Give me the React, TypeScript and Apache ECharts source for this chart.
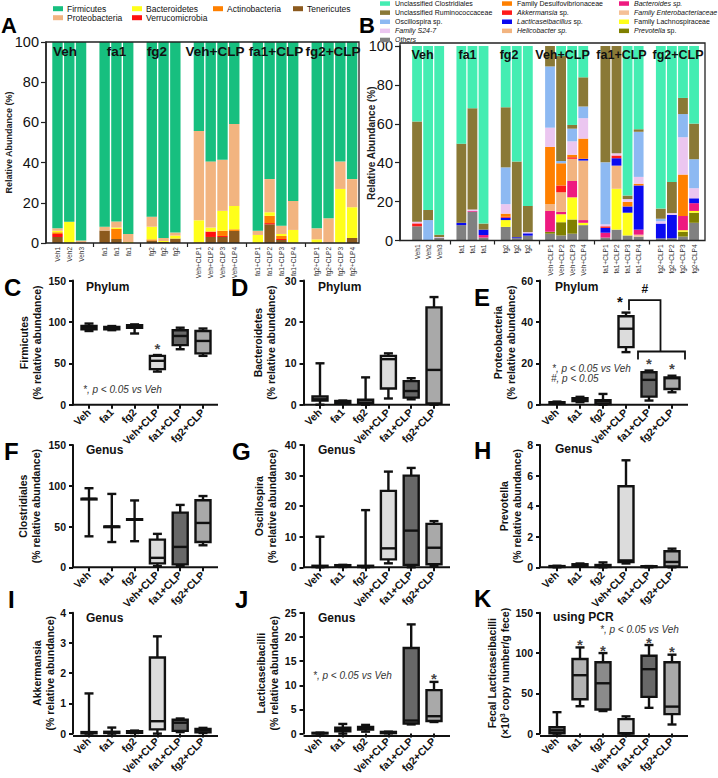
import { useEffect, useRef } from 'react';
import * as echarts from 'echarts';

const FONT = '"Liberation Sans", Arial, Helvetica, sans-serif';

// ---------- sample axis shared by the two stacked-bar panels ----------
const SAMPLE_LABELS = [
  'Veh1', 'Veh2', 'Veh3', '',
  'fa1', 'fa1', 'fa1', '',
  'fg2', 'fg2', 'fg2', '',
  'Veh+CLP1', 'Veh+CLP2', 'Veh+CLP3', 'Veh+CLP4', '',
  'fa1+CLP1', 'fa1+CLP2', 'fa1+CLP3', 'fa1+CLP4', '',
  'fg2+CLP1', 'fg2+CLP2', 'fg2+CLP3', 'fg2+CLP4',
];
const GROUPS = ['Veh', 'fa1', 'fg2', 'Veh+CLP', 'fa1+CLP', 'fg2+CLP'];

// ---------- A: phylum relative abundance (%), 21 samples ----------
const TENERICUTES = [3, 0.2, 0, 6.2, 2, 0, 1.2, 0.5, 2.2, 0, 3, 3, 6, 0, 9.3, 1.5, 0, 0, 0, 0, 2.5];
const VERRUCOMICROBIA = [1.5, 0, 0, 0, 0, 0, 0, 0, 0, 0, 2.7, 0.5, 0, 0, 0.6, 0.5, 0, 0, 0, 0, 0];
const ACTINOBACTERIA = [0.8, 0, 0, 0, 5, 0, 0.6, 0, 0, 0.3, 0, 2.6, 0.8, 0, 3.6, 1.5, 0, 0, 0, 0, 0];
const BACTEROIDETES = [0.8, 10.3, 0, 0, 0.7, 0.5, 6.3, 0.5, 1.5, 11, 2, 9.9, 11.6, 4, 1.8, 1, 6.5, 1.8, 0, 26.9, 15.3];
const PROTEOBACTERIA = [1.2, 0.1, 1.2, 1.9, 3, 4, 5, 1.5, 1.5, 44.4, 32.9, 25.4, 40.8, 2.1, 16.5, 4.1, 14.4, 5.5, 12.3, 13.6, 14];
const FIRMICUTES = [92.7, 89.4, 98.8, 91.9, 89.3, 95.5, 86.9, 97.5, 94.8, 44.3, 59.4, 58.6, 40.8, 93.9, 68.2, 91.4, 79.1, 92.7, 87.7, 59.5, 68.2];

// ---------- B: genus relative abundance (%), 21 samples ----------
const OTHERS = [7.3, 0, 1.5, 7.9, 14.8, 1.5, 7, 1.2, 2.5, 3.5, 2.6, 3.5, 7.9, 1.5, 5.6, 2.6, 2, 1.1, 1.2, 2, 9.1];
const PREVOTELLA = [0, 0, 0, 0, 0, 0, 0, 0, 0, 1, 6.8, 7.3, 0, 0, 0, 0, 0, 0, 0, 2.5, 5.2];
const LACHNOSPIRACEAE = [0, 0, 0, 0, 0, 0, 3.5, 0, 0, 0, 4.1, 11.4, 1.2, 0, 21, 11.7, 0, 0, 0, 0.8, 0.9];
const ENTEROBACTERIACEAE = [0, 0, 0, 0, 0, 0, 0, 0, 0, 0, 0, 0, 0, 0, 0, 0, 1, 0, 0, 0, 0];
const BACTEROIDES = [0, 0, 0, 0, 0.4, 1.3, 0, 0, 0, 10.7, 1.2, 8.4, 1.4, 2.5, 0, 0, 2.6, 0, 0, 7.3, 4];
const HELICOBACTER = [0, 0, 0, 0, 0, 0, 0, 0, 0, 3.5, 10.1, 11.4, 30.6, 0, 11.9, 0, 0, 0, 0, 0, 0];
const LACTICASEIBACILLUS = [0, 0, 0, 1.2, 0, 2.8, 1.2, 0.5, 1.2, 0, 0, 0, 0.9, 2.5, 3.8, 3.2, 22.7, 7.6, 12, 0, 2.5];
const AKKERMANSIA = [1.5, 0, 0, 0, 0, 0, 0.5, 0, 0, 0, 3.5, 0.8, 0, 0.8, 1.4, 0, 0, 0, 0, 0, 0];
const DESULFOVIBRIONACEAE = [0, 0, 0, 0, 0, 0, 1.6, 0, 0, 29.4, 11.4, 1.3, 10.4, 0, 0, 2.4, 0.9, 0, 0, 21.3, 0];
const S24_7 = [0.8, 0, 0.3, 0, 0.8, 0, 4.9, 0, 0.6, 9.9, 0, 6.9, 10.5, 1, 1.2, 1.4, 3.5, 1.2, 0.9, 19.2, 5.2];
const OSCILLOSPIRA = [0, 10.5, 0, 0, 0, 0, 18.9, 0, 0, 31.5, 1.2, 6.5, 6, 31.9, 0, 0, 23.2, 1.3, 0, 11.9, 14.9];
const RUMINOCOCCACEAE = [51.6, 5.2, 1.2, 40.7, 52, 3.1, 30.9, 38.9, 13.5, 10.5, 53.9, 1.9, 15, 59.8, 55.1, 1.8, 1.3, 5.2, 16, 8.3, 18.3];
const CLOSTRIDIALES = [38.8, 84.3, 97, 50.2, 32, 91.3, 31.5, 59.4, 82.2, 0, 5.2, 40.6, 16.1, 0, 0, 76.9, 42.8, 83.6, 69.9, 26.7, 39.9];

// ---------- C–K: box summaries [min, q1, median, q3, max] per group ----------
const FIRMICUTES_BOX = [[89, 91, 93, 95, 98], [90, 91, 92, 94, 95], [86, 93, 95, 96, 97], [40, 43, 53, 59, 60], [67, 72, 83, 90, 93], [59, 62, 77, 89, 92]];
const BACTEROIDETES_BOX = [[0, 1, 1.3, 2, 10], [0.2, 0.4, 0.6, 0.9, 1], [0, 0.2, 0.5, 1.2, 6.6], [1.5, 3.9, 11, 11.8, 12.4], [1.3, 1.7, 3.3, 5.7, 6.4], [0, 0.3, 8.4, 23.5, 26]];
const PROTEOBACTERIA_BOX = [[0.5, 0.7, 1, 1.2, 1.5], [1.2, 1.8, 2.5, 3.2, 3.8], [0, 0.3, 1.5, 2.2, 5.2], [25.4, 27.8, 36.7, 42.7, 44.5], [2, 3.9, 12, 15.7, 16.5], [6, 7.6, 12.8, 13.2, 14]];
const CLOSTRIDIALES_BOX = [[38, 84, 84, 84, 97], [31, 50, 50, 50, 90], [32, 59, 59, 59, 82], [1.5, 4.8, 11.6, 34, 41], [1.5, 3.6, 25, 67, 76.5], [27, 31, 54.4, 82.2, 87.4]];
const OSCILLOSPIRA_BOX = [[0, 0.1, 0.3, 0.5, 10], [0.1, 0.3, 0.5, 0.7, 0.8], [0, 0.1, 0.3, 0.5, 18.7], [1.3, 2.6, 6.2, 25, 31.3], [0, 0.8, 12, 30, 32.5], [0.5, 1, 6.4, 14.2, 15.1]];
const PREVOTELLA_BOX = [[0, 0.02, 0.05, 0.08, 0.1], [0.08, 0.1, 0.15, 0.2, 0.25], [0, 0.02, 0.05, 0.15, 0.32], [0.25, 0.35, 0.45, 5.3, 7], [0, 0.02, 0.05, 0.07, 0.08], [0, 0.05, 0.35, 1.05, 1.22]];
const AKKERMANSIA_BOX = [[0, 0.01, 0.03, 0.05, 1.33], [0, 0.02, 0.04, 0.06, 0.2], [0.02, 0.03, 0.05, 0.08, 0.1], [0, 0.14, 0.41, 2.52, 3.22], [0.05, 0.09, 0.36, 0.46, 0.5], [0.02, 0.04, 0.1, 0.15, 0.19]];
const LACTICASEIBACILLI_BOX = [[0, 0.05, 0.1, 0.15, 0.2], [0, 0.5, 0.8, 1.2, 2], [0.4, 0.85, 1.1, 1.4, 1.8], [0.05, 0.1, 0.2, 0.35, 0.4], [1.9, 2.1, 2.7, 17.7, 22.6], [2.4, 2.6, 3.6, 9, 10.7]];
const PCR_BOX = [[0, 0.5, 4, 8, 26.6], [34, 42.7, 72.5, 92.7, 107], [28, 30, 62.5, 88.6, 100], [0, 0, 0.5, 18, 21.4], [32, 45.6, 80, 96.7, 110], [11.3, 24.2, 33.5, 88.6, 98]];

// groups marked * (p < 0.05 vs Veh)
const SIG_C = [3];
const SIG_E = [4, 5];
const SIG_J = [5];
const SIG_K = [1, 2, 4, 5];
// E bracket heights (% abundance): top bar, left drop, lower bar, lower drops
const E_BRACKET = [3, 50.5, 45.6, 25.7, 21.8];

const BOX_FILLS = ['#6f6f6f', '#b2b2b2', '#8b8b8b', '#dcdcdc', '#686868', '#a9a9a9'];

const PHYLA = [
  { name: 'Tenericutes', color: '#8c5a1e', values: TENERICUTES },
  { name: 'Verrucomicrobia', color: '#ff1010', values: VERRUCOMICROBIA },
  { name: 'Actinobacteria', color: '#ff8000', values: ACTINOBACTERIA },
  { name: 'Bacteroidetes', color: '#ffff1a', values: BACTEROIDETES },
  { name: 'Proteobacteria', color: '#f2b480', values: PROTEOBACTERIA },
  { name: 'Firmicutes', color: '#17bf7f', values: FIRMICUTES },
];

const GENERA = [
  { name: 'Others', color: '#808080', values: OTHERS },
  { name: 'Prevotella sp.', color: '#808000', values: PREVOTELLA },
  { name: 'Family Lachnospiraceae', color: '#ffff1a', values: LACHNOSPIRACEAE },
  { name: 'Family Enterobacteriaceae', color: '#f5c096', values: ENTEROBACTERIACEAE },
  { name: 'Bacteroides sp.', color: '#ee1a80', values: BACTEROIDES },
  { name: 'Helicobacter sp.', color: '#f2b480', values: HELICOBACTER },
  { name: 'Lacticaseibacillus sp.', color: '#0a0af0', values: LACTICASEIBACILLUS },
  { name: 'Akkermansia sp.', color: '#ff1a1a', values: AKKERMANSIA },
  { name: 'Family Desulfovibrionaceae', color: '#ff8000', values: DESULFOVIBRIONACEAE },
  { name: 'Family S24-7', color: '#ebc6f0', values: S24_7 },
  { name: 'Oscillospira sp.', color: '#8db9f2', values: OSCILLOSPIRA },
  { name: 'Unclassified Ruminococcaceae', color: '#8a7936', values: RUMINOCOCCACEAE },
  { name: 'Unclassified Clostridiales', color: '#44edb2', values: CLOSTRIDIALES },
];

const LEGEND_RICH: Record<string, string> = {
  'Family S24-7': '{i|Family S24-7}',
  'Others': '{i|Others}',
  'Akkermansia sp.': '{i|Akkermansia}{n| sp.}',
  'Lacticaseibacillus sp.': '{i|Lacticaseibacillus}{n| sp.}',
  'Helicobacter sp.': '{i|Helicobacter sp.}',
  'Bacteroides sp.': '{i|Bacteroides sp.}',
  'Family Enterobacteriaceae': '{i|Family Enterobacteriaceae}',
  'Prevotella sp.': '{i|Prevotella}{n| sp.}',
};

// ---------- layout ----------
const BAR_A = { axisX: 46, left: 51.6, width: 306.4, top: 42, height: 201, frameTop: 42, frameRight: 359, nameGap: 33, nameSize: 9 };
const BAR_B = { axisX: 400, left: 411.5, width: 288.1, top: 46, height: 194.5, frameTop: 43, frameRight: 705, nameGap: 24, nameSize: 10 };
const COLS = [
  { axisX: 73, left: 77.6, pitch: 22.8, endX: 218 },
  { axisX: 303.5, left: 308.6, pitch: 22.8, endX: 450 },
  { axisX: 540, left: 545.5, pitch: 23, endX: 688 },
];
const ROWS = [
  { top: 280.5, zero: 404.7 },
  { top: 445, zero: 567.3 },
  { top: 612.8, zero: 736 },
];

const PANELS = [
  { col: 0, row: 0, data: FIRMICUTES_BOX, max: 150, step: 50, name: 'Firmicutes', unit: '(% relative abundance)', gap: 30, sig: SIG_C, starGap: 10 },
  { col: 1, row: 0, data: BACTEROIDETES_BOX, max: 30, step: 10, name: 'Bacteroidetes', unit: '(% relative abundance)', gap: 26, sig: [], starGap: 8 },
  { col: 2, row: 0, data: PROTEOBACTERIA_BOX, max: 60, step: 20, name: 'Proteobacteria', unit: '(% relative abundance)', gap: 22, sig: SIG_E, starGap: 10 },
  { col: 0, row: 1, data: CLOSTRIDIALES_BOX, max: 150, step: 50, name: 'Clostridiales', unit: '(% relative abundance)', gap: 31, sig: [], starGap: 8 },
  { col: 1, row: 1, data: OSCILLOSPIRA_BOX, max: 40, step: 10, name: 'Oscillospira', unit: '(% relative abundance)', gap: 25, sig: [], starGap: 8 },
  { col: 2, row: 1, data: PREVOTELLA_BOX, max: 8, step: 2, name: 'Prevotella', unit: '(% relative abundance)', gap: 17, sig: [], starGap: 8 },
  { col: 0, row: 2, data: AKKERMANSIA_BOX, max: 4, step: 1, name: 'Akkermansia', unit: '(% relative abundance)', gap: 15, sig: [], starGap: 8 },
  { col: 1, row: 2, data: LACTICASEIBACILLI_BOX, max: 25, step: 5, name: 'Lacticaseibacilli', unit: '(% relative abundance)', gap: 22, sig: SIG_J, starGap: 6 },
  { col: 2, row: 2, data: PCR_BOX, max: 150, step: 50, name: 'Fecal Lacticaseibacilli', unit: '(×10{sup|3} copy number/g fece)', gap: 28, sig: SIG_K, starGap: 6 },
];

const LETTERS = [
  ['A', 1, 25, 22], ['B', 359, 25, 22],
  ['C', 4, 287, 24], ['D', 231, 287, 24], ['E', 474, 297, 24],
  ['F', 4, 451, 24], ['G', 232, 451, 24], ['H', 474, 450, 24],
  ['I', 8, 599, 24], ['J', 235, 599, 24], ['K', 474, 598, 24],
];
const PANEL_TITLES = [
  ['Phylum', 86, 287], ['Phylum', 318, 287], ['Phylum', 555, 287],
  ['Genus', 86, 450], ['Genus', 318, 450], ['Genus', 555, 449],
  ['Genus', 86, 618], ['Genus', 318, 618], ['using PCR', 553, 617],
];
const NOTES = [
  ['*, p < 0.05 vs Veh', 83, 389], ['*, p < 0.05 vs Veh', 552, 368], ['#, p < 0.05', 551, 378],
  ['*, p < 0.05 vs Veh', 313, 675], ['*, p < 0.05 vs Veh', 600, 629],
];
const GROUP_TAGS_A = [65, 116.5, 157, 215, 276, 333];
const GROUP_TAGS_B = [422.5, 467.5, 509, 562.5, 621.5, 678];

function withGaps(vals: number[]) {
  let k = 0;
  return SAMPLE_LABELS.map((l) => (l === '' ? '-' : vals[k++]));
}

function boxRenderer(params: any, api: any) {
  const i = api.value(0);
  const lo = api.coord([i, api.value(1)]);
  const q1 = api.coord([i, api.value(2)]);
  const md = api.coord([i, api.value(3)]);
  const q3 = api.coord([i, api.value(4)]);
  const hi = api.coord([i, api.value(5)]);
  const cx = lo[0];
  const bw = 15;
  const cap = 9;
  const stroke = { stroke: '#111', lineWidth: 2.4 };
  return {
    type: 'group',
    children: [
      { type: 'line', shape: { x1: cx, y1: hi[1], x2: cx, y2: lo[1] }, style: stroke },
      { type: 'line', shape: { x1: cx - cap / 2, y1: hi[1], x2: cx + cap / 2, y2: hi[1] }, style: stroke },
      { type: 'line', shape: { x1: cx - cap / 2, y1: lo[1], x2: cx + cap / 2, y2: lo[1] }, style: stroke },
      {
        type: 'rect',
        shape: { x: cx - bw / 2, y: q3[1], width: bw, height: Math.max(q1[1] - q3[1], 0.6) },
        style: { fill: BOX_FILLS[i], stroke: '#111', lineWidth: 2.4 },
      },
      { type: 'line', shape: { x1: cx - bw / 2, y1: md[1], x2: cx + bw / 2, y2: md[1] }, style: stroke },
    ],
  };
}

function bracketRenderer(params: any, api: any) {
  const xV = api.coord([api.value(0), 0])[0];
  const xF = api.coord([4, 0])[0];
  const xG = api.coord([5, 0])[0];
  const yTop = api.coord([0, api.value(1)])[1];
  const yDrop = api.coord([0, api.value(2)])[1];
  const yLow = api.coord([0, api.value(3)])[1];
  const yLowDrop = api.coord([0, api.value(4)])[1];
  const xL = xV + 3;
  const xR = (xF + xG) / 2;
  const s = { stroke: '#111', lineWidth: 1.8, fill: 'none' };
  return {
    type: 'group',
    children: [
      { type: 'polyline', shape: { points: [[xL, yDrop], [xL, yTop], [xR, yTop], [xR, yLow]] }, style: s },
      { type: 'polyline', shape: { points: [[xF - 11, yLowDrop], [xF - 11, yLow], [xG + 13, yLow], [xG + 13, yLowDrop]] }, style: s },
      { type: 'text', x: (xL + xR) / 2, y: yTop - 11, style: { text: '#', fontSize: 12, fontWeight: 'bold', fontFamily: FONT, fill: '#111', align: 'center', verticalAlign: 'middle' } },
      { type: 'text', x: xV - 6, y: yTop + 1, style: { text: '*', fontSize: 15, fontWeight: 'bold', fontFamily: FONT, fill: '#111', align: 'center', verticalAlign: 'middle' } },
    ],
  };
}

function buildOption() {
  const grids: any[] = [];
  const xAxes: any[] = [];
  const yAxes: any[] = [];
  const series: any[] = [];
  const graphic: any[] = [];

  // ----- stacked bar panels -----
  [BAR_A, BAR_B].forEach((g, gi) => {
    grids.push({ left: g.left, top: g.top, width: g.width, height: g.height });
    xAxes.push({
      type: 'category', gridIndex: gi, data: SAMPLE_LABELS,
      axisLine: { show: false },
      axisTick: { show: true, interval: (idx: number) => SAMPLE_LABELS[idx] === '', length: 4, alignWithLabel: true, lineStyle: { color: '#222', width: 1.2 } },
      axisLabel: { interval: 0, rotate: 90, fontSize: 6.5, margin: 4, color: '#333', fontFamily: FONT },
    });
    yAxes.push({
      type: 'value', gridIndex: gi, min: 0, max: 100, interval: 20, offset: g.left - g.axisX,
      name: 'Relative Abundance (%)', nameLocation: 'middle', nameGap: g.nameGap, nameMoveOverlap: false,
      nameTextStyle: { fontSize: g.nameSize, fontWeight: 'bold', color: '#222', fontFamily: FONT },
      axisLine: { show: true, lineStyle: { color: '#222', width: 1.5 } },
      axisTick: { show: true, length: 5, lineStyle: { color: '#222', width: 1.2 } },
      axisLabel: { fontSize: 14.5, color: '#111', margin: 7, fontFamily: FONT },
      splitLine: { show: false },
    });
    graphic.push({
      type: 'rect', z: 100,
      shape: { x: g.axisX, y: g.frameTop, width: g.frameRight - g.axisX, height: g.top + g.height - g.frameTop },
      style: { fill: 'none', stroke: '#222', lineWidth: 1.3 },
    });
  });

  PHYLA.forEach((p) => {
    series.push({
      type: 'bar', name: p.name, stack: 'phylum', xAxisIndex: 0, yAxisIndex: 0,
      barWidth: 10.4, itemStyle: { color: p.color }, data: withGaps(p.values),
    });
  });
  GENERA.forEach((p) => {
    series.push({
      type: 'bar', name: p.name, stack: 'genus', xAxisIndex: 1, yAxisIndex: 1,
      barWidth: 9.8, itemStyle: { color: p.color }, data: withGaps(p.values),
    });
  });

  // ----- box-plot panels -----
  PANELS.forEach((p, pi) => {
    const gi = pi + 2;
    const c = COLS[p.col];
    const r = ROWS[p.row];
    grids.push({ left: c.left, top: r.top, width: c.pitch * 6, height: r.zero - r.top });
    xAxes.push({
      type: 'category', gridIndex: gi, data: GROUPS,
      axisLine: { show: false },
      axisTick: { show: true, alignWithLabel: true, length: 4, lineStyle: { color: '#111', width: 2 } },
      axisLabel: { interval: 0, rotate: 45, fontSize: 10.5, fontWeight: 'bold', margin: 6, color: '#111', fontFamily: FONT },
    });
    yAxes.push({
      type: 'value', gridIndex: gi, min: 0, max: p.max, interval: p.step, offset: c.left - c.axisX,
      name: `${p.name}\n${p.unit}`, nameLocation: 'middle', nameGap: p.gap,
      nameTextStyle: {
        fontSize: 10.5, fontWeight: 'bold', color: '#111', lineHeight: 13, fontFamily: FONT,
        rich: { sup: { fontSize: 7, fontWeight: 'bold', verticalAlign: 'top', fontFamily: FONT, color: '#111', lineHeight: 13 } },
      },
      axisLine: { show: true, lineStyle: { color: '#111', width: 2 } },
      axisTick: { show: true, length: 4, lineStyle: { color: '#111', width: 2 } },
      axisLabel: { fontSize: 10.5, fontWeight: 'bold', color: '#111', margin: 7, fontFamily: FONT },
      splitLine: { show: false },
    });
    graphic.push({
      type: 'line', shape: { x1: c.axisX, y1: r.zero, x2: c.endX, y2: r.zero },
      style: { stroke: '#111', lineWidth: 2 },
    });
    series.push({
      type: 'custom', name: p.name, xAxisIndex: gi, yAxisIndex: gi,
      renderItem: boxRenderer, encode: { x: 0, y: [1, 2, 3, 4, 5] },
      data: p.data.map((b, i) => [i, ...b]), z: 3,
    });
    if (p.sig.length) {
      series.push({
        type: 'scatter', name: `${p.name} sig`, xAxisIndex: gi, yAxisIndex: gi,
        symbolSize: 1, itemStyle: { color: 'rgba(0,0,0,0)' }, silent: true,
        data: p.sig.map((g) => [g, p.data[g][4]]),
        label: {
          show: true, formatter: '*', position: 'inside', offset: [0, -p.starGap + 3],
          fontSize: 15, fontWeight: 'bold', color: '#111', fontFamily: FONT,
        },
        z: 4,
      });
    }
  });

  // bracket with # between Veh+CLP and the two treated CLP groups (panel E)
  series.push({
    type: 'custom', name: 'E bracket', xAxisIndex: 4, yAxisIndex: 4,
    renderItem: bracketRenderer, encode: { x: 0, y: [1, 2, 3, 4] },
    data: [E_BRACKET], z: 5, silent: true,
  });

  // ----- texts -----
  LETTERS.forEach(([t, x, y, fs]) => {
    graphic.push({ type: 'text', x, y, style: { text: t, fontSize: fs, fontWeight: 'bold', fontFamily: FONT, fill: '#000', align: 'left', verticalAlign: 'middle' } });
  });
  PANEL_TITLES.forEach(([t, x, y]) => {
    graphic.push({ type: 'text', x, y, style: { text: t, fontSize: 12, fontWeight: 'bold', fontFamily: FONT, fill: '#111', align: 'left', verticalAlign: 'middle' } });
  });
  NOTES.forEach(([t, x, y]) => {
    graphic.push({ type: 'text', x, y, style: { text: t, fontSize: 10, fontStyle: 'italic', fontFamily: FONT, fill: '#333', align: 'left', verticalAlign: 'middle' } });
  });
  GROUPS.forEach((t, i) => {
    graphic.push({ type: 'text', x: GROUP_TAGS_A[i], y: 51, z: 101, style: { text: t, fontSize: 13.5, fontWeight: 'bold', fontFamily: FONT, fill: '#111', align: 'center', verticalAlign: 'middle' } });
    graphic.push({ type: 'text', x: GROUP_TAGS_B[i], y: 55, z: 101, style: { text: t, fontSize: 12.5, fontWeight: 'bold', fontFamily: FONT, fill: '#111', align: 'center', verticalAlign: 'middle' } });
  });

  // ----- legends -----
  const legendA = (data: string[], left: number) => ({
    data, left, top: 4.2, orient: 'vertical', itemWidth: 10, itemHeight: 5, itemGap: 0, padding: 0,
    icon: 'rect', selectedMode: false,
    textStyle: { fontSize: 8.5, lineHeight: 9, color: '#111', fontFamily: FONT, padding: [0, 0, 0, -1] },
  });
  const richStyle = { fontSize: 7, lineHeight: 9.1, color: '#111', fontFamily: FONT };
  const legendB = (data: string[], left: number) => ({
    data, left, top: -1, orient: 'vertical', itemWidth: 10, itemHeight: 4.5, itemGap: 0, padding: 0,
    icon: 'rect', selectedMode: false,
    formatter: (n: string) => LEGEND_RICH[n] ?? `{n|${n}}`,
    textStyle: { ...richStyle, rich: { i: { ...richStyle, fontStyle: 'italic' }, n: { ...richStyle } } },
  });
  const legends = [
    legendA(['Firmicutes', 'Proteobacteria'], 53),
    legendA(['Bacteroidetes', 'Verrucomicrobia'], 132),
    legendA(['Actinobacteria'], 213),
    legendA(['Tenericutes'], 293),
    legendB(['Unclassified Clostridiales', 'Unclassified Ruminococcaceae', 'Oscillospira sp.', 'Family S24-7', 'Others'], 380),
    legendB(['Family Desulfovibrionaceae', 'Akkermansia sp.', 'Lacticaseibacillus sp.', 'Helicobacter sp.'], 502),
    legendB(['Bacteroides sp.', 'Family Enterobacteriaceae', 'Family Lachnospiraceae', 'Prevotella sp.'], 619),
  ];

  return {
    animation: false,
    backgroundColor: '#fff',
    textStyle: { fontFamily: FONT },
    legend: legends,
    grid: grids,
    xAxis: xAxes,
    yAxis: yAxes,
    series,
    graphic,
  };
}

export default function App() {
  const ref = useRef<HTMLDivElement>(null);
  useEffect(() => {
    if (!ref.current) return;
    const chart = echarts.init(ref.current, null, { renderer: 'svg' });
    chart.setOption(buildOption() as any);
    return () => chart.dispose();
  }, []);
  return (
    <div
      ref={ref}
      style={{ position: 'absolute', left: 0, top: 0, width: 718, height: 778, background: '#fff' }}
    />
  );
}
